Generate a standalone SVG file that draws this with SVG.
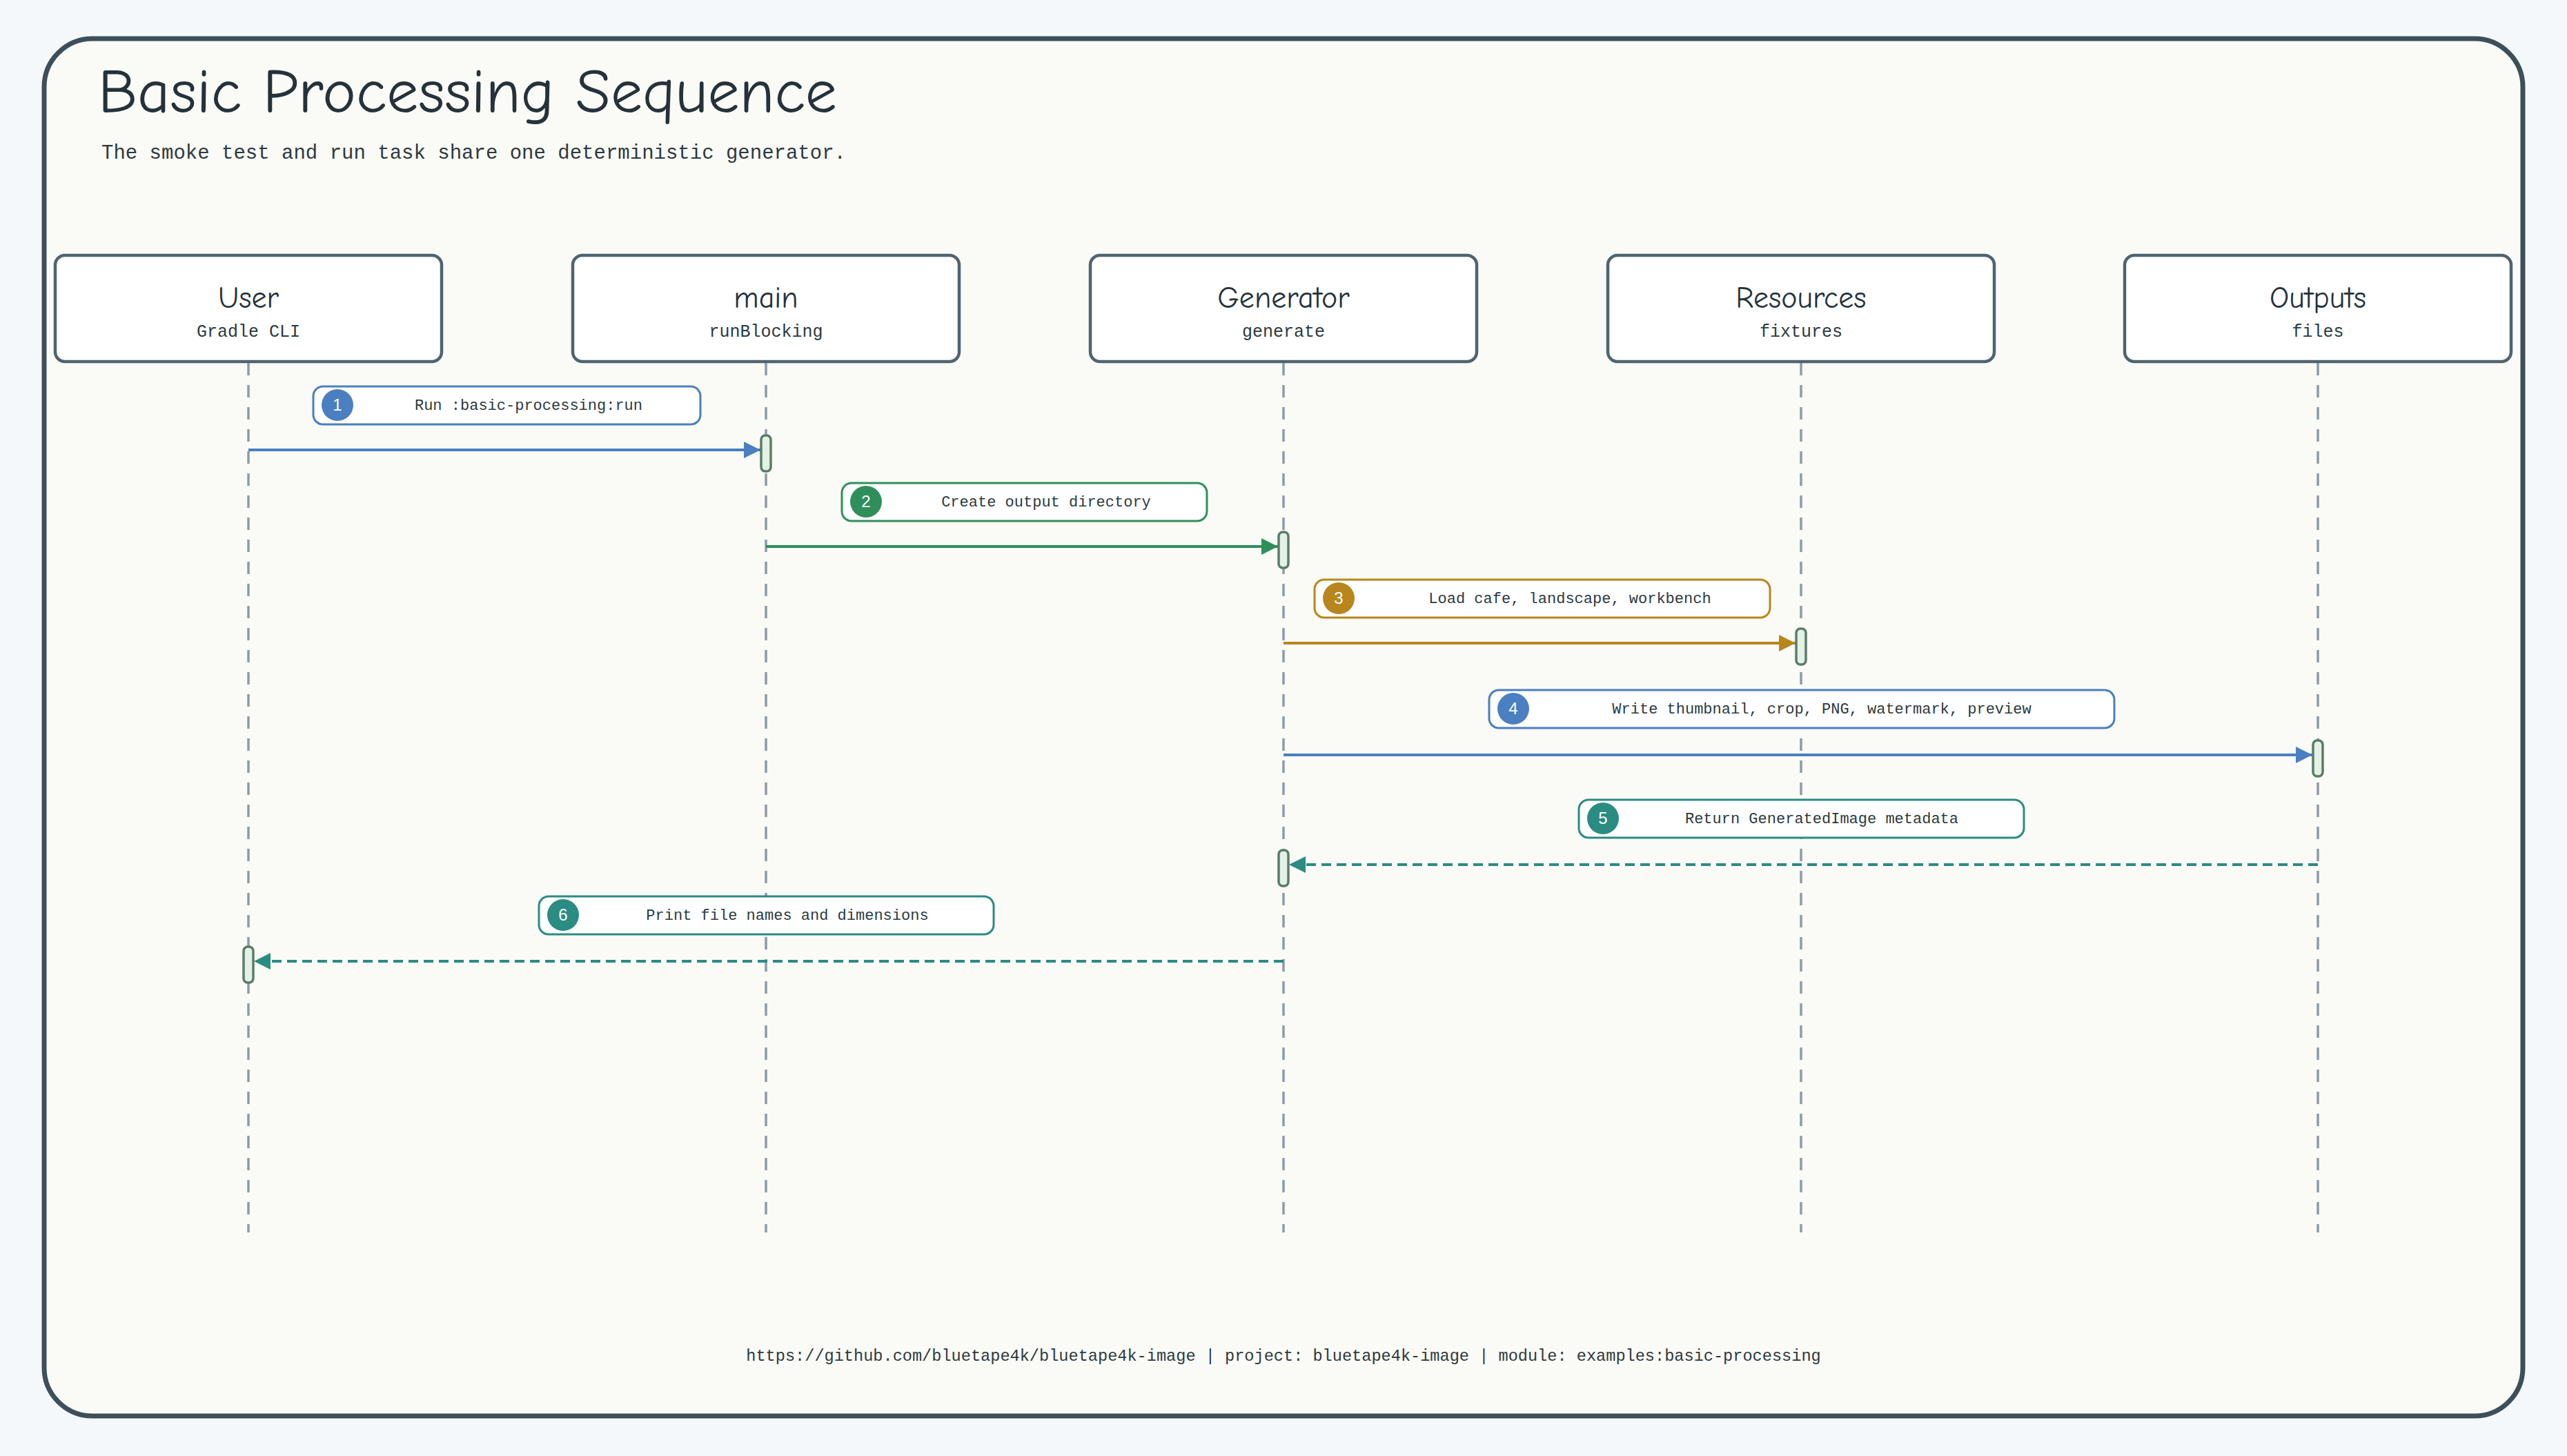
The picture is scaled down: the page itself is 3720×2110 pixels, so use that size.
<svg xmlns="http://www.w3.org/2000/svg" width="3720" height="2110" viewBox="0 0 3720 2110">
<defs>
<style>
.mono{font-family:"Liberation Mono","DejaVu Sans Mono",monospace;fill:#2d3a40}
.hand{font-family:"Comic Neue","Lato","Liberation Sans",sans-serif;fill:#25323a}
.pbox{fill:#fff;stroke:#4f6470;stroke-width:4.5}
.life{stroke:#8d9ba5;stroke-width:3.5;stroke-dasharray:18 14}
.act{fill:#e3f1e6;stroke:#5a7d68;stroke-width:3.5}
.lbl{fill:#fff;stroke-width:3}
.num{font-family:"Liberation Sans",sans-serif;fill:#fff;font-size:24px;text-anchor:middle}
.lt{font-size:22px;text-anchor:middle}
</style>
<marker id="mb" viewBox="0 0 10 10" refX="10" refY="5" markerWidth="6" markerHeight="6" orient="auto"><path d="M0,0L10,5L0,10z" fill="#4a7fc1"/></marker>
<marker id="mg" viewBox="0 0 10 10" refX="10" refY="5" markerWidth="6" markerHeight="6" orient="auto"><path d="M0,0L10,5L0,10z" fill="#2f8f5b"/></marker>
<marker id="mo" viewBox="0 0 10 10" refX="10" refY="5" markerWidth="6" markerHeight="6" orient="auto"><path d="M0,0L10,5L0,10z" fill="#b8861c"/></marker>
<marker id="mt" viewBox="0 0 10 10" refX="10" refY="5" markerWidth="6" markerHeight="6" orient="auto"><path d="M0,0L10,5L0,10z" fill="#2a8c82"/></marker>
</defs>
<rect width="3720" height="2110" fill="#f5f8fa"/>
<rect x="64" y="56" width="3592" height="1996" rx="70" fill="#fafaf6" stroke="#3d4f5a" stroke-width="7"/>
<text class="hand" x="142" y="163" font-size="92">Basic Processing Sequence</text>
<text class="mono" x="147" y="230" font-size="29">The smoke test and run task share one deterministic generator.</text>

<g id="lifelines">
<line class="life" x1="360" y1="526" x2="360" y2="1786"/>
<line class="life" x1="1110" y1="526" x2="1110" y2="1786"/>
<line class="life" x1="1860" y1="526" x2="1860" y2="1786"/>
<line class="life" x1="2610" y1="526" x2="2610" y2="1786"/>
<line class="life" x1="3359" y1="526" x2="3359" y2="1786"/>
</g>

<g id="user"><rect class="pbox" x="80" y="370" width="560" height="154" rx="14"/><text class="hand" x="360" y="446" font-size="44" text-anchor="middle">User</text><text class="mono" x="360" y="488" font-size="25" text-anchor="middle">Gradle CLI</text></g>
<g id="main"><rect class="pbox" x="830" y="370" width="560" height="154" rx="14"/><text class="hand" x="1110" y="446" font-size="44" text-anchor="middle">main</text><text class="mono" x="1110" y="488" font-size="25" text-anchor="middle">runBlocking</text></g>
<g id="generator"><rect class="pbox" x="1580" y="370" width="560" height="154" rx="14"/><text class="hand" x="1860" y="446" font-size="44" text-anchor="middle">Generator</text><text class="mono" x="1860" y="488" font-size="25" text-anchor="middle">generate</text></g>
<g id="resources"><rect class="pbox" x="2330" y="370" width="560" height="154" rx="14"/><text class="hand" x="2610" y="446" font-size="44" text-anchor="middle">Resources</text><text class="mono" x="2610" y="488" font-size="25" text-anchor="middle">fixtures</text></g>
<g id="outputs"><rect class="pbox" x="3079" y="370" width="560" height="154" rx="14"/><text class="hand" x="3359" y="446" font-size="44" text-anchor="middle">Outputs</text><text class="mono" x="3359" y="488" font-size="25" text-anchor="middle">files</text></g>

<g id="connectors" stroke-width="4" fill="none">
<line x1="360" y1="652" x2="1102" y2="652" stroke="#4a7fc1" marker-end="url(#mb)"/>
<line x1="1110" y1="792" x2="1852" y2="792" stroke="#2f8f5b" marker-end="url(#mg)"/>
<line x1="1860" y1="932" x2="2602" y2="932" stroke="#b8861c" marker-end="url(#mo)"/>
<line x1="1860" y1="1094" x2="3351" y2="1094" stroke="#4a7fc1" marker-end="url(#mb)"/>
<line x1="3359" y1="1253" x2="1868" y2="1253" stroke="#2a8c82" stroke-dasharray="14 8" marker-end="url(#mt)"/>
<line x1="1860" y1="1393" x2="368" y2="1393" stroke="#2a8c82" stroke-dasharray="14 8" marker-end="url(#mt)"/>
</g>

<g id="activations">
<rect class="act" x="1103" y="631" width="14" height="52" rx="6"/>
<rect class="act" x="1853" y="771" width="14" height="52" rx="6"/>
<rect class="act" x="2603" y="911" width="14" height="52" rx="6"/>
<rect class="act" x="3352" y="1073" width="14" height="52" rx="6"/>
<rect class="act" x="1853" y="1232" width="14" height="52" rx="6"/>
<rect class="act" x="353" y="1372" width="14" height="52" rx="6"/>
</g>

<g id="msg1"><rect class="lbl" x="454" y="560" width="561" height="55" rx="14" stroke="#4a7fc1"/><circle cx="489" cy="587" r="23" fill="#4a7fc1"/><text class="num" x="489" y="595">1</text><text class="mono lt" x="766" y="594">Run :basic-processing:run</text></g>
<g id="msg2"><rect class="lbl" x="1220" y="700" width="529" height="55" rx="14" stroke="#2f8f5b"/><circle cx="1255" cy="727" r="23" fill="#2f8f5b"/><text class="num" x="1255" y="735">2</text><text class="mono lt" x="1516" y="734">Create output directory</text></g>
<g id="msg3"><rect class="lbl" x="1905" y="840" width="660" height="55" rx="14" stroke="#b8861c"/><circle cx="1940" cy="867" r="23" fill="#b8861c"/><text class="num" x="1940" y="875">3</text><text class="mono lt" x="2275" y="874">Load cafe, landscape, workbench</text></g>
<g id="msg4"><rect class="lbl" x="2158" y="1000" width="906" height="55" rx="14" stroke="#4a7fc1"/><circle cx="2193" cy="1027" r="23" fill="#4a7fc1"/><text class="num" x="2193" y="1035">4</text><text class="mono lt" x="2640" y="1034">Write thumbnail, crop, PNG, watermark, preview</text></g>
<g id="msg5"><rect class="lbl" x="2288" y="1159" width="645" height="55" rx="14" stroke="#2a8c82"/><circle cx="2323" cy="1186" r="23" fill="#2a8c82"/><text class="num" x="2323" y="1194">5</text><text class="mono lt" x="2640" y="1193">Return GeneratedImage metadata</text></g>
<g id="msg6"><rect class="lbl" x="781" y="1299" width="659" height="55" rx="14" stroke="#2a8c82"/><circle cx="816" cy="1326" r="23" fill="#2a8c82"/><text class="num" x="816" y="1334">6</text><text class="mono lt" x="1141" y="1333">Print file names and dimensions</text></g>

<text class="mono" x="1860" y="1972" font-size="23.6" text-anchor="middle">https://github.com/bluetape4k/bluetape4k-image | project: bluetape4k-image | module: examples:basic-processing</text>
</svg>
